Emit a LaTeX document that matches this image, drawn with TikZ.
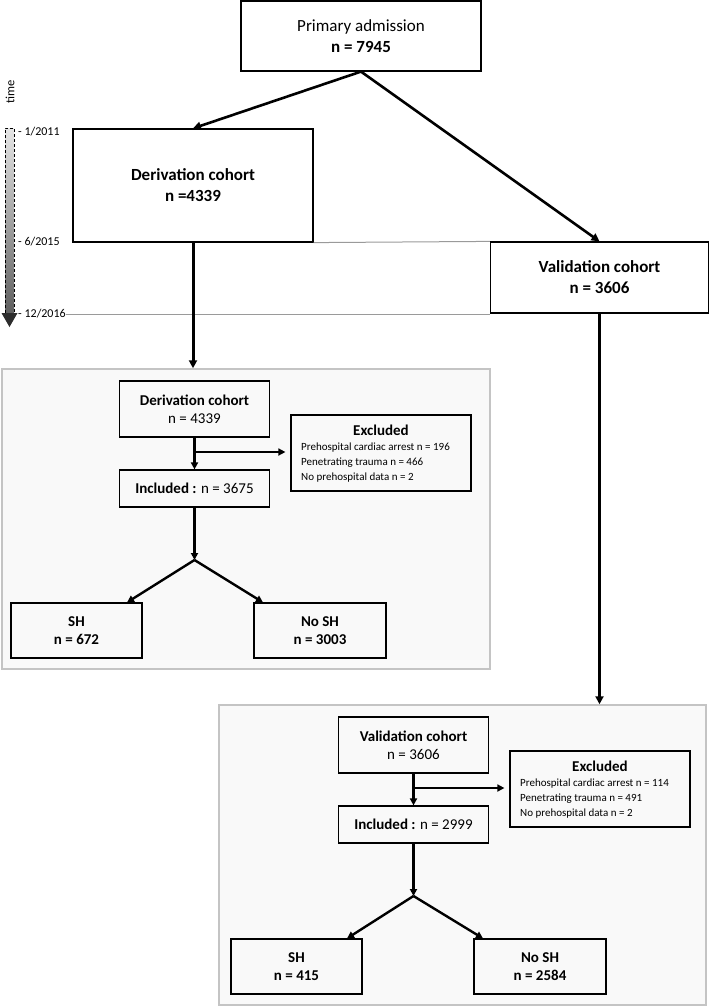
\documentclass[tikz,border=0pt]{standalone}
\usepackage{fontspec}
\setmainfont{Carlito}
\usetikzlibrary{arrows.meta,calc}
\definecolor{panelfill}{HTML}{F9F9F9}
\definecolor{panelline}{HTML}{C4C4C4}
\definecolor{timeline}{HTML}{9A9A9A}
\begin{document}
\begin{tikzpicture}[x=1pt,y=-1pt,
  box/.style={draw, line width=1.2pt, inner sep=0pt, align=center},
  bigtxt/.style={font=\fontsize{17}{21}\selectfont},
  smalltxt/.style={font=\fontsize{15}{18}\selectfont},
  detailtxt/.style={font=\fontsize{11}{15}\selectfont, anchor=west, align=left, inner sep=0pt},
  timetxt/.style={font=\fontsize{12}{14}\selectfont, anchor=west, inner sep=0pt},
  panel/.style={draw=panelline, fill=panelfill, line width=1.5pt, inner sep=0pt},
  arr/.style={line width=2.6pt, -{Triangle[length=8pt,width=8pt]}},
  thinarr/.style={line width=2.4pt, -{Triangle[length=7pt,width=7pt]}},
  exarr/.style={line width=1.6pt, -{Triangle[length=7pt,width=7pt]}, shorten >=5pt},
  gridline/.style={draw=timeline, line width=1pt},
  ]
\useasboundingbox (0,0) rectangle (710,1007);

% panels (background)
\node[panel, minimum width=488pt, minimum height=300pt] (p1) at (246,519) {};
\node[panel, minimum width=487pt, minimum height=300pt] (p2) at (462.5,855) {};

% time axis
\shade[top color=gray!20, bottom color=gray!75!black] (5,128) -- (14,128) -- (14,313) -- (5,313) -- cycle;
\fill[gray!35!black] (1.5,313) -- (17.5,313) -- (9.5,327) -- cycle;
\draw[line width=0.8pt, dash pattern=on 3pt off 2pt] (5,313) -- (5,128) -- (14,128) -- (14,313);
\node[rotate=90, font=\fontsize{12.5}{14}\selectfont] (timelbl) at (10,92) {time};
\node[timetxt] (t1) at (18,132) {- 1/2011};
\node[timetxt] (t2) at (18,242) {- 6/2015};
\node[timetxt] (t3) at (18,314) {- 12/2016};

% top tier
\node[box, bigtxt, minimum width=240pt, minimum height=70pt] (prim) at (361,36) {Primary admission\\\textbf{n = 7945}};
\node[box, bigtxt, minimum width=240pt, minimum height=113pt] (der) at (193,185.5) {\textbf{Derivation cohort}\\\textbf{n =4339}};
\node[box, bigtxt, minimum width=218pt, minimum height=71pt] (val) at (599.5,277.5) {\textbf{Validation cohort}\\\textbf{n = 3606}};

\draw[gridline] (der.south east) -- (val.north west);
\draw[gridline] (t3.east) -- (t3.east -| val.west);

\draw[arr] (prim.south) -- (der.north);
\draw[arr] (prim.south) -- (val.north);
\draw[arr, line width=3pt] (der.south) -- (der.south |- p1.north);
\draw[arr, line width=3pt] (val.south) -- (val.south |- p2.north);

% panel 1
\node[box, smalltxt, minimum width=150pt, minimum height=56pt] (d2) at (194.5,409) {\textbf{Derivation cohort}\\n = 4339};
\node[box, smalltxt, minimum width=150pt, minimum height=37pt] (inc1) at (194.5,488.5) {\textbf{Included :} n = 3675};
\node[box, minimum width=180pt, minimum height=76pt] (exc1) at (381,453) {};
\node[smalltxt, font=\fontsize{15}{18}\selectfont\bfseries] (exc1t) at (381,430) {Excluded};
\node[detailtxt] (exc1d) at (301,463) {Prehospital cardiac arrest n = 196\\Penetrating trauma n = 466\\No prehospital data n = 2};
\coordinate (e1) at (194.5,452);
\coordinate (b1) at (194.5,560);
\node[box, smalltxt, minimum width=131pt, minimum height=55pt] (sh1) at (76.5,630.5) {\textbf{SH}\\\textbf{n = 672}};
\node[box, smalltxt, minimum width=132pt, minimum height=55pt] (nosh1) at (320,630.5) {\textbf{No SH}\\\textbf{n = 3003}};
\draw[thinarr] (d2.south) -- (inc1.north);
\draw[exarr] (e1) -- (e1 -| exc1.west);
\draw[thinarr] (inc1.south) -- (b1);
\draw[thinarr] (b1) -- ($(sh1.north)+(50.5,0)$);
\draw[thinarr] (b1) -- ($(nosh1.north)+(-57,0)$);

% panel 2
\node[box, smalltxt, minimum width=150pt, minimum height=56pt] (v2) at (413.5,745) {\textbf{Validation cohort}\\n = 3606};
\node[box, smalltxt, minimum width=150pt, minimum height=37pt] (inc2) at (413.5,824.5) {\textbf{Included :} n = 2999};
\node[box, minimum width=180pt, minimum height=76pt] (exc2) at (600,789) {};
\node[smalltxt, font=\fontsize{15}{18}\selectfont\bfseries] (exc2t) at (600,766) {Excluded};
\node[detailtxt] (exc2d) at (520,799) {Prehospital cardiac arrest n = 114\\Penetrating trauma n = 491\\No prehospital data n = 2};
\coordinate (e2) at (413.5,788);
\coordinate (b2) at (413.5,896);
\node[box, smalltxt, minimum width=131pt, minimum height=55pt] (sh2) at (296.5,966.5) {\textbf{SH}\\\textbf{n = 415}};
\node[box, smalltxt, minimum width=132pt, minimum height=55pt] (nosh2) at (540,966.5) {\textbf{No SH}\\\textbf{n = 2584}};
\draw[thinarr] (v2.south) -- (inc2.north);
\draw[exarr] (e2) -- (e2 -| exc2.west);
\draw[thinarr] (inc2.south) -- (b2);
\draw[thinarr] (b2) -- ($(sh2.north)+(50.5,0)$);
\draw[thinarr] (b2) -- ($(nosh2.north)+(-57,0)$);
\end{tikzpicture}
\end{document}
